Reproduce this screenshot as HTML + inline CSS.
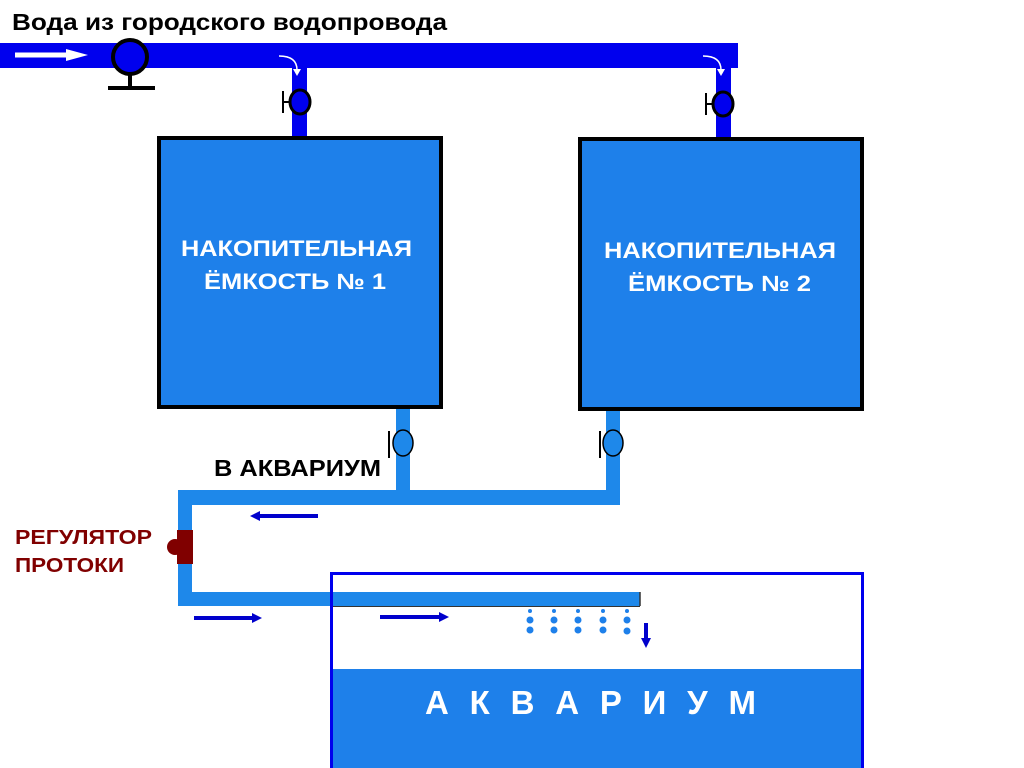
<!DOCTYPE html>
<html><head><meta charset="utf-8"><style>
html,body{margin:0;padding:0;background:#fff;width:1024px;height:768px;overflow:hidden}
svg{display:block}
text{font-family:"Liberation Sans",Arial,sans-serif;font-weight:bold}
</style></head><body>
<svg width="1024" height="768" viewBox="0 0 1024 768" xmlns="http://www.w3.org/2000/svg">
<text x="12" y="30" font-size="23" fill="#000" textLength="435" lengthAdjust="spacingAndGlyphs">Вода из городского водопровода</text>
<!-- top pipe -->
<rect x="0" y="43" width="738" height="25" fill="#0000ee"/>
<rect x="292" y="60" width="15" height="80" fill="#0000ee"/>
<rect x="716" y="60" width="15" height="80" fill="#0000ee"/>
<line x1="15" y1="55" x2="72" y2="55" stroke="#fff" stroke-width="5"/>
<polygon points="66,49 88,55 66,61" fill="#fff"/>
<!-- pump -->
<circle cx="130" cy="57" r="17" fill="#0000ee" stroke="#000" stroke-width="4"/>
<line x1="130" y1="74" x2="130" y2="87" stroke="#000" stroke-width="4"/>
<line x1="108" y1="88" x2="155" y2="88" stroke="#000" stroke-width="4"/>
<!-- small white arrows -->
<path d="M279,56 Q297,56 297,70" fill="none" stroke="#fff" stroke-width="1.5"/>
<polygon points="293,69 301,69 297,76" fill="#fff"/>
<path d="M703,56 Q721,56 721,70" fill="none" stroke="#fff" stroke-width="1.5"/>
<polygon points="717,69 725,69 721,76" fill="#fff"/>
<!-- top valves -->
<ellipse cx="300" cy="102" rx="10" ry="12" fill="#0000ee" stroke="#000" stroke-width="3"/>
<line x1="283" y1="91" x2="283" y2="113" stroke="#000" stroke-width="2"/>
<line x1="283" y1="102" x2="290" y2="102" stroke="#000" stroke-width="2"/>
<ellipse cx="723" cy="104" rx="10" ry="12" fill="#0000ee" stroke="#000" stroke-width="3"/>
<line x1="706" y1="93" x2="706" y2="115" stroke="#000" stroke-width="2"/>
<line x1="706" y1="104" x2="713" y2="104" stroke="#000" stroke-width="2"/>
<!-- tanks -->
<rect x="159" y="138" width="282" height="269" fill="#1e80ea" stroke="#000" stroke-width="4"/>
<rect x="580" y="139" width="282" height="270" fill="#1e80ea" stroke="#000" stroke-width="4"/>
<text x="181" y="256" font-size="22" fill="#fff" textLength="231" lengthAdjust="spacingAndGlyphs">НАКОПИТЕЛЬНАЯ</text>
<text x="204" y="289" font-size="22" fill="#fff" textLength="182" lengthAdjust="spacingAndGlyphs">ЁМКОСТЬ № 1</text>
<text x="604" y="258" font-size="22" fill="#fff" textLength="232" lengthAdjust="spacingAndGlyphs">НАКОПИТЕЛЬНАЯ</text>
<text x="628" y="291" font-size="22" fill="#fff" textLength="183" lengthAdjust="spacingAndGlyphs">ЁМКОСТЬ № 2</text>
<!-- lower pipes -->
<g fill="#1e88ea">
<rect x="396" y="409" width="14" height="96"/>
<rect x="606" y="411" width="14" height="94"/>
<rect x="178" y="490" width="442" height="15"/>
<rect x="178" y="490" width="14" height="116"/>
<rect x="178" y="592" width="462" height="14"/>
</g>
<line x1="640" y1="592" x2="640" y2="606" stroke="#333" stroke-width="1.5"/>
<line x1="330" y1="606.5" x2="640" y2="606.5" stroke="#333" stroke-width="1"/>
<!-- lower valves -->
<ellipse cx="403" cy="443" rx="10" ry="13" fill="#1e88ea" stroke="#000" stroke-width="1.5"/>
<line x1="389" y1="431" x2="389" y2="458" stroke="#000" stroke-width="2"/>
<ellipse cx="613" cy="443" rx="10" ry="13" fill="#1e88ea" stroke="#000" stroke-width="1.5"/>
<line x1="600" y1="431" x2="600" y2="458" stroke="#000" stroke-width="2"/>
<text x="214" y="476" font-size="23" fill="#000" textLength="167" lengthAdjust="spacingAndGlyphs">В АКВАРИУМ</text>
<!-- regulator -->
<circle cx="175" cy="547" r="8" fill="#800000"/>
<rect x="177" y="530" width="16" height="34" fill="#800000"/>
<text x="15" y="544" font-size="20" fill="#800000" textLength="137" lengthAdjust="spacingAndGlyphs">РЕГУЛЯТОР</text>
<text x="15" y="572" font-size="20" fill="#800000" textLength="109" lengthAdjust="spacingAndGlyphs">ПРОТОКИ</text>
<!-- aquarium -->
<rect x="331" y="669" width="531" height="99" fill="#1e80ea"/>
<path d="M331.5,768 V573.5 H862.5 V768" fill="none" stroke="#0000ee" stroke-width="3"/>
<text x="425" y="714" font-size="33" fill="#fff" textLength="331" lengthAdjust="spacing">А К В А Р И У М</text>
<!-- arrows -->
<g stroke="#0000cc" stroke-width="4" fill="#0000cc">
<line x1="318" y1="516" x2="258" y2="516"/>
<polygon points="250,516 260,511 260,521" stroke="none"/>
<line x1="194" y1="618" x2="252" y2="618"/>
<polygon points="262,618 252,613 252,623" stroke="none"/>
<line x1="380" y1="617" x2="440" y2="617"/>
<polygon points="449,617 439,612 439,622" stroke="none"/>
<line x1="646" y1="623" x2="646" y2="640"/>
<polygon points="646,648 641,638 651,638" stroke="none"/>
</g>
<!-- drops -->
<g fill="#1e80ea">
<circle cx="530" cy="611" r="2"/><circle cx="530" cy="620" r="3.5"/><circle cx="530" cy="630" r="3.5"/>
<circle cx="554" cy="611" r="2"/><circle cx="554" cy="620" r="3.5"/><circle cx="554" cy="630" r="3.5"/>
<circle cx="578" cy="611" r="2"/><circle cx="578" cy="620" r="3.5"/><circle cx="578" cy="630" r="3.5"/>
<circle cx="603" cy="611" r="2"/><circle cx="603" cy="620" r="3.5"/><circle cx="603" cy="630" r="3.5"/>
<circle cx="627" cy="611" r="2"/><circle cx="627" cy="620" r="3.5"/><circle cx="627" cy="631" r="3.5"/>
</g>
</svg>
</body></html>
